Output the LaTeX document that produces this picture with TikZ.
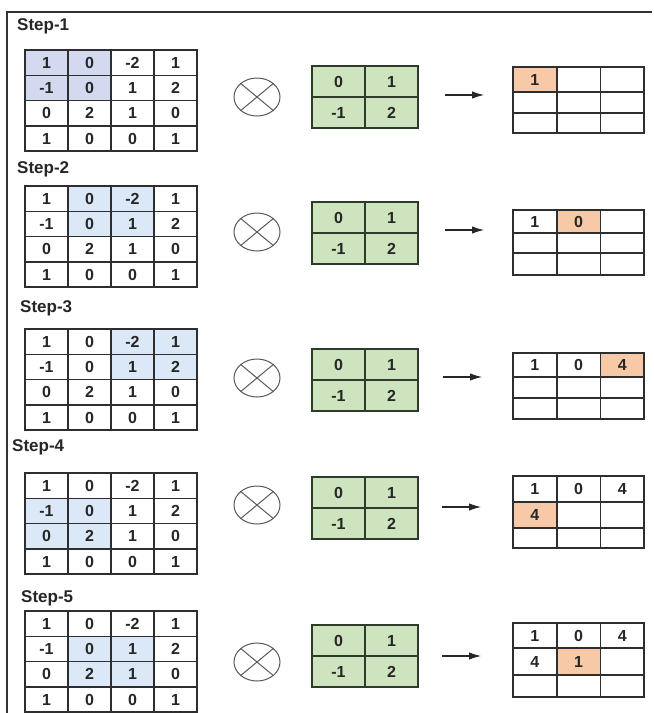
\documentclass[tikz,border=0pt]{standalone}
\usepackage{fontspec}
\setmainfont{Liberation Sans}
\usetikzlibrary{shapes.geometric,arrows.meta}
\definecolor{gridline}{HTML}{2E2E2E}
\definecolor{hlA}{HTML}{D3DAF0}
\definecolor{hlB}{HTML}{DAE8F8}
\definecolor{kfill}{HTML}{CDE4BE}
\definecolor{kline}{HTML}{2E3B2A}
\definecolor{ofill}{HTML}{F8C9A6}
\tikzset{
 cellbase/.style={draw=gridline, line width=1.6pt, inner sep=0pt, font=\bfseries\fontsize{16}{16}\selectfont, text=black!85},
 incell/.style={cellbase, minimum width=43pt, minimum height=25.3pt},
 kcell/.style={cellbase, draw=kline, line width=1.8pt, fill=kfill, minimum width=53pt, minimum height=31pt},
 ocell/.style={cellbase, minimum width=43.7pt},
 steplabel/.style={anchor=west, inner sep=0pt, font=\bfseries\fontsize{17}{17}\selectfont, text=black!85},
 otimesnode/.style={ellipse, draw=black!65, line width=1pt, minimum width=46pt, minimum height=38pt, inner sep=0pt},
 arr/.style={draw=black!85, line width=1.1pt, -{Latex[length=12pt,width=7.5pt]}},
 frameline/.style={draw=black!80, line width=2.5pt}
}
\newcommand\ingrid[5]{%
 \foreach \v [count=\i from 0] in {1,0,-2,1,-1,0,1,2,0,2,1,0,1,0,0,1}{%
  \pgfmathtruncatemacro\mrow{div(\i,4)}%
  \pgfmathtruncatemacro\mcol{mod(\i,4)}%
  \pgfmathtruncatemacro\mhl{(\mcol>=#3)*(\mcol<=#3+1)*(\mrow>=#4)*(\mrow<=#4+1)}%
  \ifnum\mhl=1 \def\mcf{#5}\else\def\mcf{white}\fi
  \node[incell, fill=\mcf] (#1-\mrow-\mcol) at ({25+43*\mcol+21.5},{#2+25.3*\mrow+12.65}) {\v};
 }}
\newcommand\kernelgrid[2]{%
 \foreach \v [count=\i from 0] in {0,1,-1,2}{%
  \pgfmathtruncatemacro\mrow{div(\i,2)}%
  \pgfmathtruncatemacro\mcol{mod(\i,2)}%
  \node[kcell] (#1-\mrow-\mcol) at ({312+53*\mcol+26.5},{#2+31*\mrow+15.5}) {\v};
 }}
\newcommand\outgrid[7]{%
 \foreach \v [count=\i from 0] in {#6}{%
  \pgfmathtruncatemacro\mrow{div(\i,3)}%
  \pgfmathtruncatemacro\mcol{mod(\i,3)}%
  \pgfmathsetmacro\mhh{\mrow==0 ? #3 : (\mrow==1 ? #4 : #5)}%
  \pgfmathsetmacro\myy{#2 + (\mrow>0)*#3 + (\mrow>1)*#4 + \mhh/2}%
  \ifnum\i=#7 \def\mcf{ofill}\else\def\mcf{white}\fi
  \node[ocell, minimum height=\mhh pt, fill=\mcf] (#1-\mrow-\mcol) at ({513+43.7*\mcol+21.85},\myy) {\v};
 }}
\newcommand\otimesmark[3]{%
 \node[otimesnode] (#1) at (#2,#3) {};
 \draw[black!65, line width=1pt] (#1.north west) -- (#1.south east) (#1.north east) -- (#1.south west);
}
\begin{document}
\begin{tikzpicture}[x=1pt,y=-1pt]
\useasboundingbox (0,0) rectangle (654,713);
\coordinate (fTL) at (7,12);
\coordinate (fTR) at (652,12);
\coordinate (fBL) at (7,713);
\draw[frameline] (fTR) -- (fTL) -- (fBL);

% Step 1
\node[steplabel] (lab1) at (17,26) {Step-1};
\ingrid{in1}{50}{0}{0}{hlA}
\otimesmark{ot1}{257}{97}
\kernelgrid{k1}{66}
\coordinate (a1) at (445,95); \coordinate (b1) at (484,95);
\draw[arr] (a1) -- (b1);
\outgrid{out1}{67}{25}{21}{20}{1,{},{},{},{},{},{},{},{}}{0}

% Step 2
\node[steplabel] (lab2) at (17,169) {Step-2};
\ingrid{in2}{186}{1}{0}{hlB}
\otimesmark{ot2}{257}{232}
\kernelgrid{k2}{202}
\coordinate (a2) at (445,230); \coordinate (b2) at (484,230);
\draw[arr] (a2) -- (b2);
\outgrid{out2}{210}{23}{20}{22}{1,0,{},{},{},{},{},{},{}}{1}

% Step 3
\node[steplabel] (lab3) at (20,308) {Step-3};
\ingrid{in3}{329}{2}{0}{hlB}
\otimesmark{ot3}{257}{378}
\kernelgrid{k3}{349}
\coordinate (a3) at (443,377); \coordinate (b3) at (482,377);
\draw[arr] (a3) -- (b3);
\outgrid{out3}{353}{24}{21}{21}{1,0,4,{},{},{},{},{},{}}{2}

% Step 4
\node[steplabel] (lab4) at (12,447) {Step-4};
\ingrid{in4}{473}{0}{1}{hlB}
\otimesmark{ot4}{257}{505}
\kernelgrid{k4}{477}
\coordinate (a4) at (442,507); \coordinate (b4) at (481,507);
\draw[arr] (a4) -- (b4);
\outgrid{out4}{476}{26}{26}{20}{1,0,4,4,{},{},{},{},{}}{3}

% Step 5
\node[steplabel] (lab5) at (21,598) {Step-5};
\ingrid{in5}{611}{1}{1}{hlB}
\otimesmark{ot5}{257}{662}
\kernelgrid{k5}{625}
\coordinate (a5) at (442,656); \coordinate (b5) at (481,656);
\draw[arr] (a5) -- (b5);
\outgrid{out5}{623}{25}{27}{22}{1,0,4,4,1,{},{},{},{}}{4}
\end{tikzpicture}
\end{document}
